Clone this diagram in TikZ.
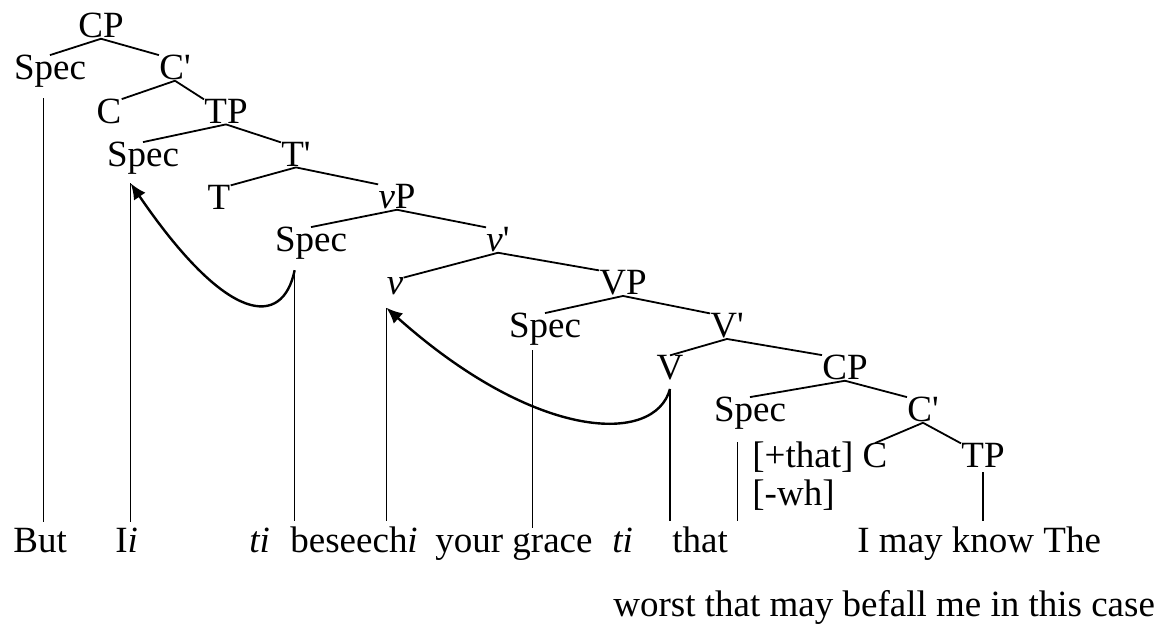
\documentclass[tikz,border=0pt]{standalone}
\usepackage{fontspec}
\setmainfont{Liberation Serif}
\usetikzlibrary{arrows.meta}
\newcommand{\bartick}{\textquotesingle}

\begin{document}
\begin{tikzpicture}[x=0.5pt,y=-0.5pt,
  cat/.style={inner sep=0pt,anchor=base,font=\fontsize{18.5}{22}\selectfont},
  word/.style={inner sep=0pt,anchor=base west,font=\fontsize{18.5}{22}\selectfont},
  branch/.style={line width=0.9pt},
  trace/.style={line width=0.8pt,shorten >=3pt},
  move/.style={line width=1.2pt,-{Latex[length=8pt,width=7pt]}}]
\useasboundingbox (0,0) rectangle (1174,625);

% upper CP down to vP
\node[cat] (cp1)   at (101,38)  {CP};
\node[cat] (spec1) at (50,80)   {Spec};
\node[cat] (cbar1) at (175,80)  {C\bartick};
\node[cat] (c1)    at (109,124) {C};
\node[cat] (tp1)   at (226,124) {TP};
\node[cat] (spec2) at (143,167) {Spec};
\node[cat] (tbar)  at (296,167) {T\bartick};
\node[cat] (t)     at (219,210) {T};
\node[cat] (vp)    at (397,209) {\textit{v}P};
\node[cat] (spec3) at (311,252) {Spec};
\node[cat] (vbar)  at (498,252) {\textit{v}\bartick};
\node[cat] (v)     at (395,295) {\textit{v}};
% VP and the embedded CP
\node[cat] (vpb)   at (623,295) {VP};
\node[cat] (spec4) at (545,338) {Spec};
\node[cat] (vbarb) at (727,338) {V\bartick};
\node[cat] (vb)    at (670,380) {V};
\node[cat] (cp2)   at (845,380) {CP};
\node[cat] (spec5) at (750,422) {Spec};
\node[cat] (cbar2) at (923,422) {C\bartick};
\node[cat] (c2)    at (875,468) {C};
\node[cat] (tp2)   at (983,468) {TP};
\node[word] (plus) at (752,468) {[+that]};
\node[word] (minus) at (752,506) {[-wh]};

% the sentence
\node[word] (but)     at (13,553)  {But};
\node[word] (ii)      at (115,553) {I\textit{i}};
\node[word] (ti1)     at (249,553) {\textit{ti}};
\node[word] (beseech) at (290,553) {beseech\textit{i}};
\node[word] (grace)   at (435,553) {your grace};
\node[word] (ti2)     at (612,553) {\textit{ti}};
\node[word] (that)    at (672,553) {that};
\node[word] (know)    at (857,553) {I may know The};
\node[word] (worst)   at (613,617) {worst that may befall me in this case};

\path[branch] (cp1.south) edge (spec1.north) edge (cbar1.north west)
  (cbar1.south) edge (c1.north east) edge (tp1.north west)
  (tp1.south) edge (spec2.north) edge (tbar.north west)
  (tbar.south) edge (t.north east) edge (vp.north west)
  (vp.south) edge (spec3.north) edge (vbar.north west)
  (vbar.south) edge (v.north east) edge (vpb.north west)
  (vpb.south) edge (spec4.north) edge (vbarb.north west)
  (vbarb.south) edge (vb.north) edge (cp2.north west)
  (cp2.south) edge (spec5.north) edge (cbar2.north west)
  (cbar2.south) edge (c2.north) edge (tp2.north west);

% feet of the vertical lines
\coordinate (f1) at ([xshift=15pt,yshift=-5pt]spec1.south west);
\coordinate (f2) at ([xshift=12pt,yshift=-4pt]spec2.south west);
\coordinate (f3) at ([xshift=10pt,yshift=-5pt]spec3.south west);
\coordinate (fv) at ([yshift=-6pt]v.south west);
\coordinate (f4) at ([xshift=12pt,yshift=-2pt]spec4.south west);
\coordinate (fV) at ([yshift=-4pt]vb.south);
\coordinate (f5) at ([xshift=12pt,yshift=-6pt]spec5.south west);
\coordinate (ft) at ([yshift=-2pt]tp2.south);

\draw[trace] (f1) -- (f1 |- but.north);
\draw[trace] (f2) -- (f2 |- ii.north);
\draw[trace] (f3) -- (f3 |- beseech.north);
\draw[trace] (fv) -- (fv |- beseech.north);
\draw[trace] (f4) -- (f4 |- grace.north);
\draw[trace] (fV) -- (fV |- that.north);
\draw[trace] (f5) -- (f5 |- that.north);
\draw[trace] (ft) -- (ft |- know.north);

% movement
\draw[move] (f3) .. controls +(-12,58) and +(97,142) .. (f2);
\draw[move] (fV) .. controls +(-15,56) and +(150,134) .. (fv);
\end{tikzpicture}
\end{document}
